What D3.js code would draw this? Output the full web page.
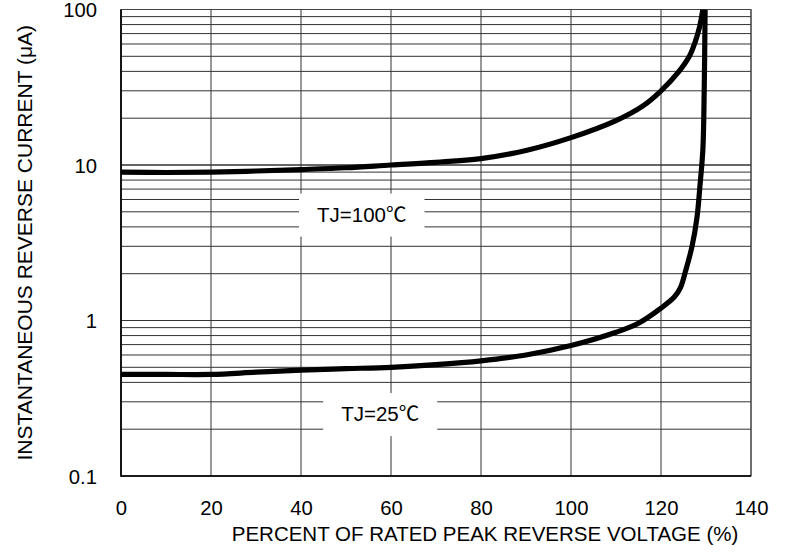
<!DOCTYPE html>
<html>
<head>
<meta charset="utf-8">
<script src="https://cdn.jsdelivr.net/npm/d3@7"></script>
<style>
  html, body { margin: 0; padding: 0; background: #fff; }
  svg { display: block; }
  text { font-family: "Liberation Sans", Arial, "Noto Sans CJK SC", sans-serif; fill: #000; }
</style>
</head>
<body>
<svg id="chart" width="791" height="559"></svg>
<script>
// ---- data ----
const xTicks = [0, 20, 40, 60, 80, 100, 120, 140];
const yTicks = [0.1, 1, 10, 100];
const yTickLabels = ["0.1", "1", "10", "100"];

const v100 = [0, 10, 20, 30, 40, 50, 60, 70, 80, 90, 100, 110, 116, 120, 124, 126.3, 127.6, 128.6, 129.3];
const i100 = [9.0, 8.95, 9.0, 9.15, 9.35, 9.6, 10.0, 10.4, 11.0, 12.4, 15.0, 19.3, 24, 30, 40, 50, 62, 78, 100];

const v25 = [0, 10, 20, 30, 40, 50, 60, 70, 80, 90, 100, 110, 115, 120, 123, 124.3, 125.5, 126.9, 128, 128.7, 129.3, 129.6, 129.8];
const i25 = [0.45, 0.45, 0.45, 0.465, 0.48, 0.49, 0.50, 0.52, 0.55, 0.60, 0.69, 0.84, 0.96, 1.2, 1.42, 1.62, 2.1, 3.0, 4.6, 7.6, 12.5, 30, 100];

const labels = [
  { text: "TJ=100\u2103", v: 53.5, i: 4.8 },
  { text: "TJ=25\u2103", v: 57.6, i: 0.25 }
];

const xTitle = "PERCENT OF RATED PEAK REVERSE VOLTAGE (%)";
const yTitle = "INSTANTANEOUS REVERSE CURRENT (\u03bcA)";

// ---- layout ----
const svg = d3.select("#chart");
const L = 121, R = 751, T = 9.5, B = 476;
const x = d3.scaleLinear().domain([0, 140]).range([L, R]);
const y = d3.scaleLog().domain([0.1, 100]).range([B, T]);

// grid
const minor = [];
for (let d = 0.1; d < 100; d *= 10) {
  for (let k = 1; k <= 10; k++) minor.push(+(d * k).toPrecision(3));
}
const grid = svg.append("g");
grid.selectAll("line.h").data(minor).join("line")
  .attr("x1", L).attr("x2", R)
  .attr("y1", d => y(d)).attr("y2", d => y(d))
  .attr("stroke", "#333").attr("stroke-width", 1);
grid.selectAll("line.v").data(xTicks).join("line")
  .attr("y1", T).attr("y2", B)
  .attr("x1", d => x(d)).attr("x2", d => x(d))
  .attr("stroke", "#333").attr("stroke-width", 1);

// label boxes (white, covering grid)
const fs = 20.5;
const labelG = svg.append("g");
labels.forEach(lb => {
  const t = labelG.append("text")
    .attr("x", x(lb.v)).attr("y", y(lb.i))
    .attr("text-anchor", "middle").attr("dy", "0.35em")
    .attr("font-size", fs).text(lb.text);
  const bb = t.node().getBBox();
  labelG.insert("rect", "text")
    .attr("x", bb.x - 18).attr("y", y(lb.i) - 21)
    .attr("width", bb.width + 36).attr("height", 43)
    .attr("fill", "#fff");
});

// frame
svg.append("rect").attr("x", L).attr("y", T).attr("width", R - L).attr("height", B - T)
  .attr("fill", "none").attr("stroke", "#444").attr("stroke-width", 1);
svg.append("line").attr("x1", L).attr("x2", L).attr("y1", T).attr("y2", B + 0.75)
  .attr("stroke", "#000").attr("stroke-width", 1.6);
svg.append("line").attr("x1", L).attr("x2", R).attr("y1", B).attr("y2", B)
  .attr("stroke", "#000").attr("stroke-width", 1.6);

// clip
svg.append("clipPath").attr("id", "clip").append("rect")
  .attr("x", L).attr("y", T).attr("width", R - L).attr("height", B - T);

const line = d3.line().x(d => x(d[0])).y(d => y(d[1])).curve(d3.curveCatmullRom.alpha(0.5));
const curves = svg.append("g").attr("clip-path", "url(#clip)");
[[v100, i100], [v25, i25]].forEach(([vs, is]) => {
  curves.append("path")
    .datum(vs.map((v, k) => [v, is[k]]))
    .attr("d", line)
    .attr("fill", "none").attr("stroke", "#000")
    .attr("stroke-width", 5.2).attr("stroke-linejoin", "round");
});

// axes labels
const xAxis = d3.axisBottom(x).tickValues(xTicks).tickSize(0).tickPadding(0).tickFormat(d3.format("d"));
const gx = svg.append("g").attr("transform", `translate(0,${B})`).call(xAxis)
  .attr("font-family", null).attr("font-size", null);
gx.select(".domain").remove();
gx.selectAll("text").attr("font-size", 20.3).attr("y", 39).attr("dy", 0).attr("fill", "#000");

const yAxis = d3.axisLeft(y).tickValues(yTicks).tickSize(0).tickPadding(0)
  .tickFormat((d, k) => yTickLabels[k]);
const gy = svg.append("g").attr("transform", `translate(97,0)`).call(yAxis)
  .attr("font-family", null).attr("font-size", null);
gy.select(".domain").remove();
gy.selectAll("text").attr("font-size", 20.3).attr("x", 0).attr("dy", "0.35em").attr("fill", "#000");

svg.append("text").attr("x", 485).attr("y", 541).attr("text-anchor", "middle")
  .attr("font-size", 20.5).text(xTitle);
svg.append("text").attr("transform", `translate(32,${(T + B) / 2}) rotate(-90)`)
  .attr("text-anchor", "middle").attr("font-size", 21).text(yTitle);
</script>
</body>
</html>
